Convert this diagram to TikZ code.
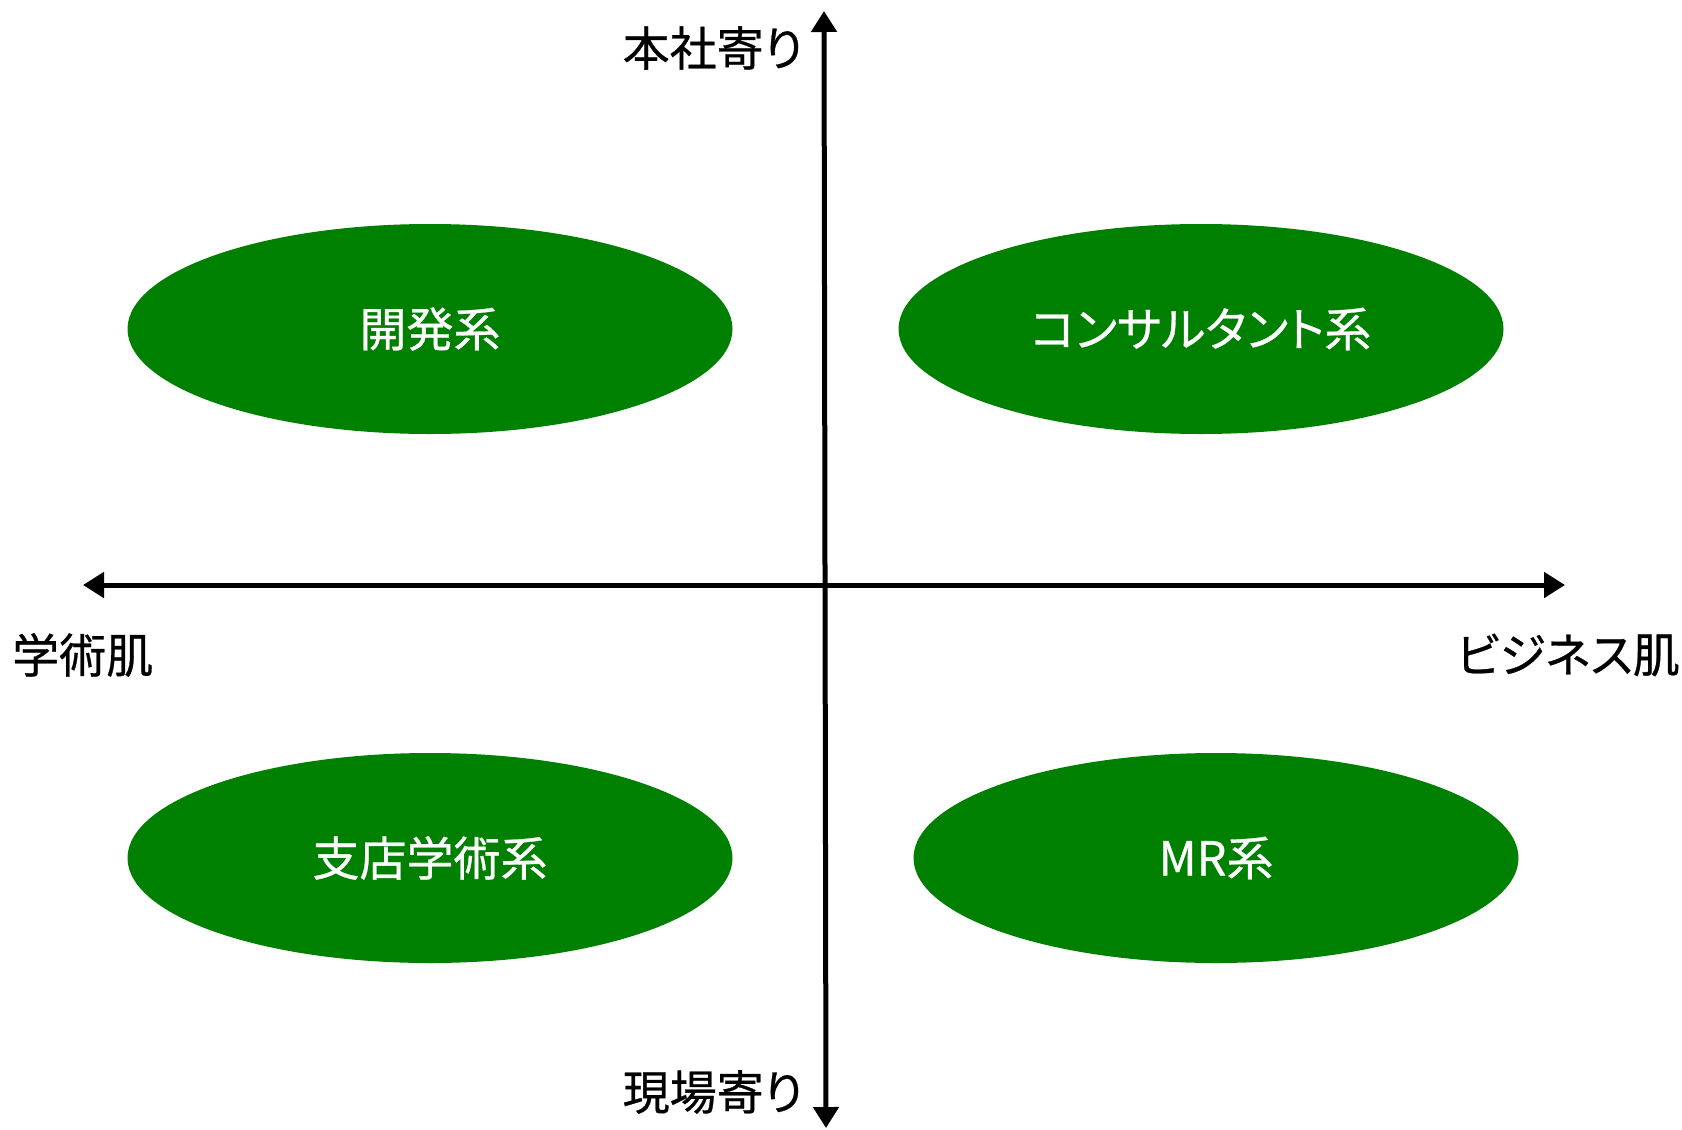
\documentclass[tikz,border=0pt]{standalone}
\usepackage{fontspec}
\newfontfamily\jpfont[FakeBold=0.6]{Noto Sans CJK JP}
\newfontfamily\jpprop[FakeBold=0.6,RawFeature=+palt]{Noto Sans CJK JP}
\usetikzlibrary{arrows.meta,shapes.geometric}
\definecolor{quadgreen}{RGB}{0,128,0}
\tikzset{
  axis/.style={line width=5pt, {Triangle[length=21pt,width=25pt]}-{Triangle[length=21pt,width=25pt]}},
  blob/.style={ellipse, fill=quadgreen, minimum width=605pt, minimum height=210pt, inner sep=0pt, text=white, font=\jpfont\fontsize{47}{55}\selectfont},
  lbl/.style={inner sep=0pt, font=\jpfont\fontsize{47}{55}\selectfont}
}
\begin{document}
\begin{tikzpicture}[x=1pt,y=-1pt]
\useasboundingbox (0,0) rectangle (1682,1130);
\coordinate (top) at (824,11);
\coordinate (bot) at (826,1128);
\coordinate (lft) at (83,585);
\coordinate (rgt) at (1565,585);
\draw[axis] (bot) -- (top);
\draw[axis] (lft) -- (rgt);
\node[blob] (dev) at (430,329) {開発系};
\node[blob] (cons) at (1201,329) {\jpprop コンサルタント系};
\node[blob] (branch) at (430,858) {支店学術系};
\node[blob] (mr) at (1216,858) {MR系};
\node[lbl, anchor=east] (hq) at (803,48) {\jpprop 本社寄り};
\node[lbl, anchor=east] (field) at (803,1092) {\jpprop 現場寄り};
\node[lbl, anchor=west] (acad) at (12,655) {学術肌};
\node[lbl, anchor=east] (biz) at (1680,655) {\jpprop ビジネス肌};
\end{tikzpicture}
\end{document}
